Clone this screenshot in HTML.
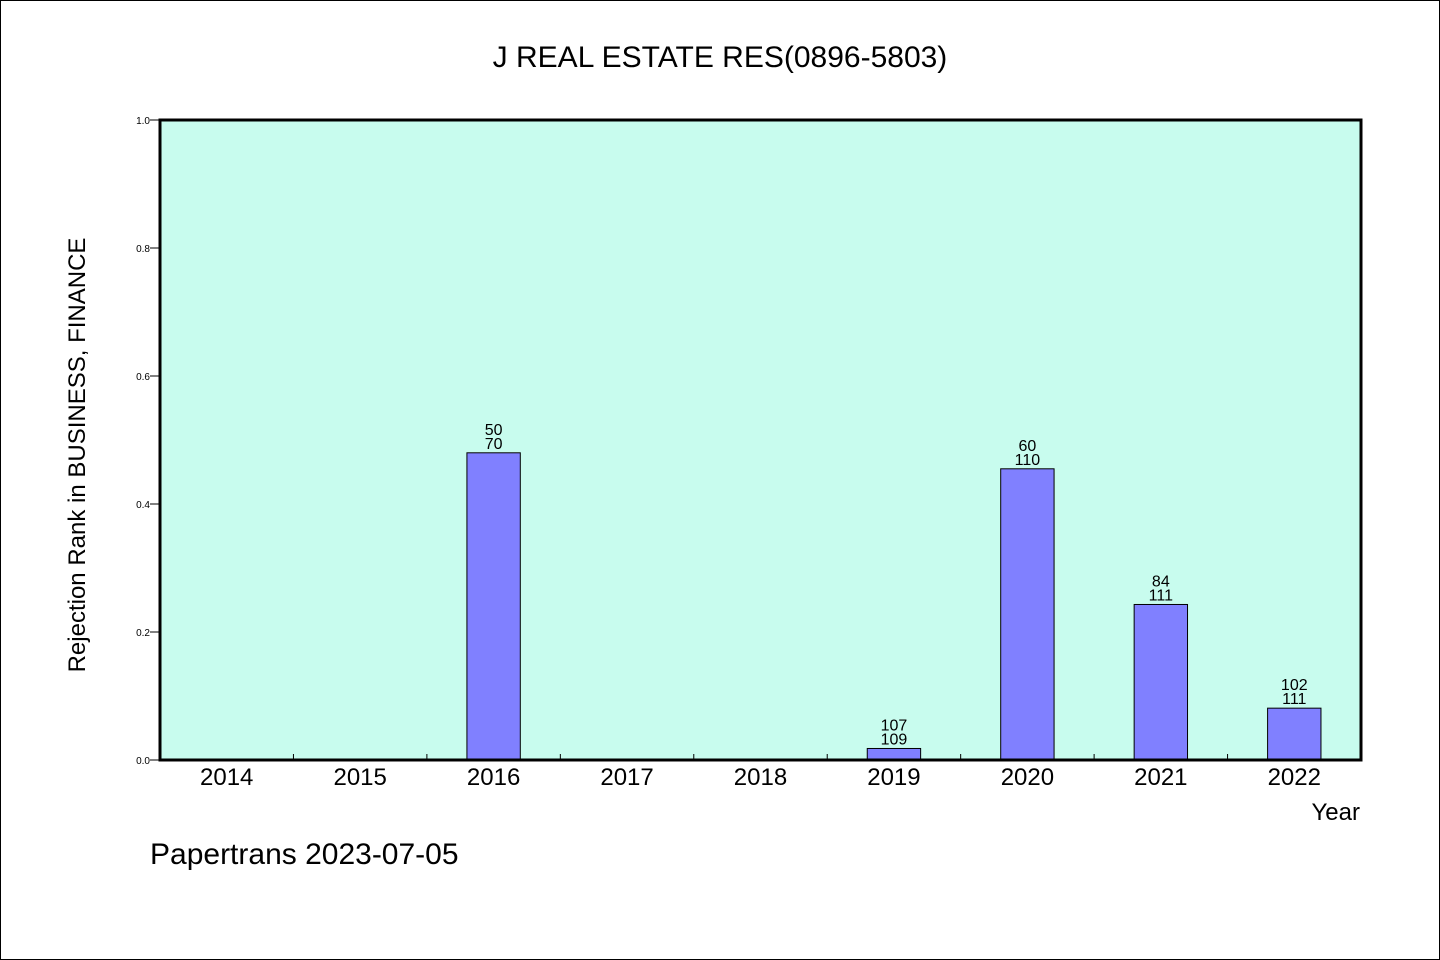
<!DOCTYPE html>
<html><head><meta charset="utf-8"><style>
html,body{margin:0;padding:0;background:#fff;}
svg{display:block;}
text{font-family:"WenQuanYi Zen Hei","Liberation Sans",sans-serif;fill:#000;}
</style></head><body>
<svg id="chart" width="1440" height="960" xmlns="http://www.w3.org/2000/svg">
<rect x="0.5" y="0.5" width="1439" height="959" fill="#fff" stroke="#000"/>
<text x="720" y="67" font-size="30" text-anchor="middle">J REAL ESTATE RES(0896-5803)</text>
<rect x="160" y="120" width="1201" height="640" fill="#c8fcee"/>
<g id="bars"></g>
<g id="ticks"></g>
<rect x="160" y="120" width="1201" height="640" fill="none" stroke="#000" stroke-width="3"/>
<text transform="translate(85,455) rotate(-90)" font-size="24" text-anchor="middle">Rejection Rank in BUSINESS, FINANCE</text>
<text x="1360" y="820" font-size="24" text-anchor="end">Year</text>
<text x="150" y="864" font-size="30">Papertrans 2023-07-05</text>
</svg>
<script>
const categories=["2014","2015","2016","2017","2018","2019","2020","2021","2022"];
const values=[0,0,0.48,0,0,0.018,0.455,0.243,0.081];
const labelTop=["","","50","","","107","60","84","102"];
const labelBottom=["","","70","","","109","110","111","111"];
const yTicks=["0.0","0.2","0.4","0.6","0.8","1.0"];
const NS="http://www.w3.org/2000/svg";
const X0=160,W=1201,Y0=760,H=640;
const step=W/categories.length;
const xPos=i=>X0+step*(i+0.5);
const yPos=v=>Y0-v*H;
function mk(tag,attrs,parent){const e=document.createElementNS(NS,tag);for(const k in attrs)e.setAttribute(k,attrs[k]);parent.appendChild(e);return e;}
const bars=document.getElementById('bars'),ticks=document.getElementById('ticks');
categories.forEach((c,i)=>{
  const cx=xPos(i),bw=step*0.4;
  if(values[i]>0){
    const r=mk('rect',{x:cx-bw/2,y:yPos(values[i]),width:bw,height:Y0-yPos(values[i]),fill:'#8080ff',stroke:'#000','stroke-width':1},bars);
    
    
    const t1=mk('text',{x:cx,y:yPos(values[i])-18,'font-size':16,'text-anchor':'middle'},bars);t1.textContent=labelTop[i];
    
    
    const t2=mk('text',{x:cx,y:yPos(values[i])-4,'font-size':16,'text-anchor':'middle'},bars);t2.textContent=labelBottom[i];
    
    
  }
  const xl=mk('text',{x:cx,y:785,'font-size':24,'text-anchor':'middle'},ticks);xl.textContent=c;
  
  
  if(i>0){const l=mk('line',{x1:X0+step*i,x2:X0+step*i,y1:Y0,y2:Y0-6,stroke:'#000'},ticks);
    
    }
});
yTicks.forEach((t,i)=>{
  const v=parseFloat(t),y=yPos(v);
  const l=mk('line',{x1:150,x2:160,y1:y,y2:y,stroke:'#000'},ticks);
  
  
  const tx=mk('text',{x:150,y:y+4,'font-size':10,'text-anchor':'end'},ticks);tx.textContent=t;
  
  
});
</script>
</body></html>
